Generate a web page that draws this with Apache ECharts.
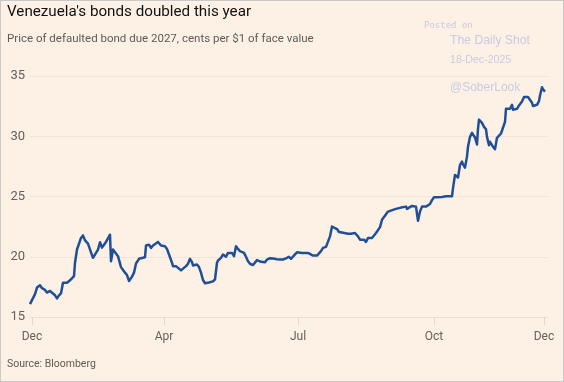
<!DOCTYPE html>
<html>
<head>
<meta charset="utf-8">
<script src="https://cdn.jsdelivr.net/npm/echarts@6/dist/echarts.min.js"></script>
<style>
  html, body { margin: 0; padding: 0; background: #FDF1E6; }
  #wrap { position: relative; width: 564px; height: 382px; }
  #c { width: 564px; height: 382px; }
  #frame { position: absolute; left: 0; top: 0; width: 564px; height: 382px; box-sizing: border-box; border: 1px solid #C9C9C9; pointer-events: none; }
</style>
</head>
<body>
<div id="wrap"><div id="c"></div><div id="frame"></div></div>
<script>
// x: position along the (non-calendar-linear) time axis, y: price in cents per $1
const xPos = [0,2,5,7,10,12,15,17,20,22,25,27,29,31,33,35,37,40,42,44,45,47,49,51,53,55,58,61,63,66,68,70,72,74,76,78,80,81,83,85,88,91,93,95,97,99,102,104,106,109,111,115,116,119,121,123,125,128,131,133,135,137,139,142,143,146,148,151,153,156,158,160,162,163,165,167,169,171,173,175,177,179,181,183,185,187,188,191,193,195,196,198,200,202,204,206,208,210,212,214,216,218,220,223,225,227,228,231,233,235,237,240,243,247,250,253,256,258,259,261,263,265,267,269,272,274,278,280,283,287,289,291,293,296,298,300,302,304,307,309,312,314,318,321,323,325,327,328,330,332,334,336,338,340,342,344,346,348,350,352,354,356,358,360,363,366,368,371,373,376,377,379,382,384,386,388,390,392,394,396,398,400,402,404,407,409,412,414,416,418,422,423,425,427,428,430,432,433,435,437,438,440,442,443,445,447,448,449,452,454,456,457,459,460,462,465,466,467,469,471,473,475,476,478,480,482,483,485,487,489,492,494,496,498,500,502,503,505,507,509,510,512,513,515];
const price = [16.07,16.15,16.9,17.44,17.63,17.39,17.25,17.03,17.16,17.22,16.8,16.54,16.8,16.97,17.85,17.96,17.85,18.04,18.18,18.4,19.5,20.6,20.65,21.56,21.77,21.36,21.09,20.37,19.91,20.32,20.6,21.2,20.76,20.79,21.23,21.36,21.83,19.63,20.6,20.6,20.05,19.14,19.0,18.68,18.48,17.99,18.35,18.68,19.44,19.83,19.96,19.96,20.93,21.0,20.74,20.93,21.07,21.23,20.93,20.85,20.87,20.65,20.19,19.5,19.22,19.22,19.09,18.87,19.0,19.22,19.42,19.83,19.55,19.28,19.44,19.36,19.14,18.68,18.07,17.8,17.66,17.86,17.96,17.96,18.13,19.5,19.69,19.91,20.19,20.24,20.0,20.32,20.32,20.32,20.05,20.87,20.65,20.46,20.54,20.32,20.0,19.63,19.42,19.31,19.42,19.72,19.77,19.58,19.5,19.55,19.77,19.88,19.86,19.8,19.77,19.77,19.86,19.77,20.0,19.83,19.83,20.19,20.37,20.41,20.32,20.37,20.32,20.19,20.1,20.1,20.24,20.46,20.74,20.82,20.68,21.69,22.51,22.43,22.3,22.05,22.02,21.91,21.91,21.91,22.02,21.97,22.05,21.69,21.42,21.56,21.42,21.23,21.56,21.5,21.56,21.69,21.97,22.1,22.46,23.07,23.29,23.2,23.75,23.89,23.89,23.97,23.97,24.08,24.11,24.16,23.97,24.11,24.22,24.24,24.16,22.98,23.75,24.16,24.11,24.16,24.16,24.38,24.7,24.93,24.93,25.02,24.96,24.88,25.02,25.07,25.02,25.7,26.79,26.88,26.58,27.62,27.9,27.67,27.4,28.31,29.13,29.95,30.28,30.17,29.9,29.32,30.64,31.38,31.11,30.78,30.58,29.95,29.26,29.54,29.26,28.93,29.4,29.87,29.95,30.23,30.23,31.19,32.28,32.23,32.28,32.61,32.2,32.23,32.28,32.56,32.88,33.25,33.38,33.25,33.11,32.78,32.51,32.42,32.61,32.92,33.38,34.07,33.88,33.71];
const tickPositions = [2, 134, 268, 404, 514];
const tickLabels = ['Dec', 'Apr', 'Jul', 'Oct', 'Dec'];
const yTicks = [15, 20, 25, 30, 35];

const titleText = "Venezuela's bonds doubled this year";
const subtitleText = 'Price of defaulted bond due 2027, cents per $1 of face value';
const sourceText = 'Source: Bloomberg';

const FONT = 'Roboto, "Noto Sans", sans-serif';
const WM = '"Liberation Sans", Arial, sans-serif';
const chart = echarts.init(document.getElementById('c'));
const seriesData = xPos.map((x, i) => [x, price[i]]);

function txt(text, left, top, family, size, color) {
  return { text, left, top, padding: 0, textStyle: { fontFamily: family, fontSize: size, fontWeight: 'normal', color } };
}

chart.setOption({
  backgroundColor: '#FDF1E6',
  animation: false,
  title: [
    txt(titleText, 7, 5, FONT, 15.2, '#111111'),
    txt(subtitleText, 7, 33, FONT, 11.5, '#5E5A57'),
    txt(sourceText, 7, 359, FONT, 10.5, '#5E5A57'),
    txt('Posted on', 424, 21, '"DejaVu Sans Mono", monospace', 9, '#CACAE2'),
    txt('The Daily Shot', 450, 35, WM, 12.2, '#CACAE2'),
    txt('18-Dec-2025', 450, 55, WM, 10.6, '#CACAE2'),
    txt('@SoberLook', 450, 82, WM, 12, '#CACAE2')
  ],
  grid: { left: 30, right: 16, top: 76, bottom: 65, containLabel: false },
  xAxis: {
    type: 'value', min: 0, max: 518,
    axisLine: { show: true, lineStyle: { color: '#E9DFD6', width: 1 } },
    axisTick: { show: true, length: 8, lineStyle: { color: '#E3D8CE' }, customValues: tickPositions },
    axisLabel: {
      customValues: tickPositions, margin: 14,
      fontFamily: FONT, fontSize: 12, color: '#66605C',
      formatter: (v) => tickLabels[tickPositions.indexOf(v)]
    },
    splitLine: { show: false }
  },
  yAxis: {
    type: 'value', min: yTicks[0], max: yTicks[yTicks.length - 1], interval: 5,
    axisLine: { show: false }, axisTick: { show: false },
    axisLabel: { margin: 5, fontFamily: FONT, fontSize: 13, color: '#66605C' },
    splitLine: { show: true, lineStyle: { color: '#F1E5DA', width: 1 } }
  },
  series: [{
    type: 'line', data: seriesData, showSymbol: false, smooth: false,
    lineStyle: { color: '#204F97', width: 2.5, join: 'round' }, z: 3
  }]
});
</script>
</body>
</html>
